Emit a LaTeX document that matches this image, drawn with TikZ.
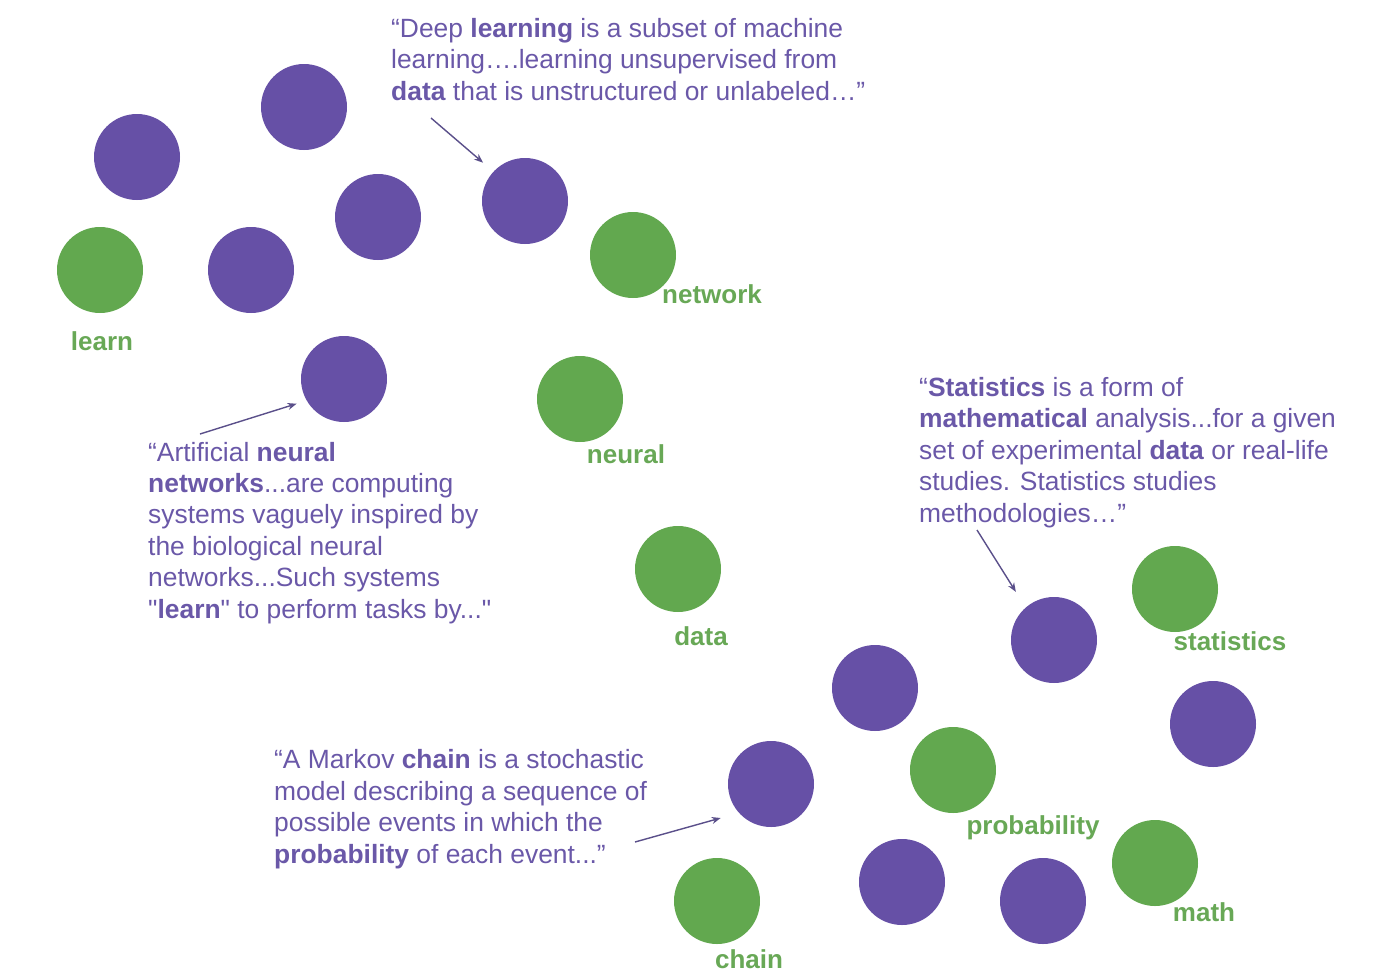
\documentclass[tikz,border=0pt]{standalone}
\usepackage{fontspec}
\setmainfont{Liberation Sans}[Ligatures=TeXOff]
\usetikzlibrary{arrows.meta}
\definecolor{purp}{HTML}{6650A6}
\definecolor{ptext}{HTML}{6A58A8}
\definecolor{grn}{HTML}{62A84F}
\definecolor{gtext}{HTML}{68A856}
\definecolor{arrc}{HTML}{5A4F8A}
\tikzset{
  pdot/.style={circle,fill=purp,minimum size=86pt,inner sep=0pt},
  gdot/.style={circle,fill=grn,minimum size=86pt,inner sep=0pt},
  lbl/.style={text=gtext,font=\fontsize{26}{30}\selectfont\bfseries,inner sep=0pt},
  quote/.style={text=ptext,font=\fontsize{26.4}{31.4}\selectfont,align=left,inner sep=0pt,anchor=base west},
  arr/.style={draw=arrc,line width=1.4pt,-{Stealth[length=9pt,width=7pt]}}
}
\begin{document}
\begin{tikzpicture}[x=1pt,y=-1pt]
\useasboundingbox (0,0) rectangle (1398,978);
% purple circles
\node[pdot] (p1) at (137,157) {};
\node[pdot] (p2) at (304,107) {};
\node[pdot] (p3) at (378,217) {};
\node[pdot] (p4) at (251,270) {};
\node[pdot] (p5) at (525,201) {};
\node[pdot] (p6) at (344,379) {};
\node[pdot] (p7) at (1054,640) {};
\node[pdot] (p8) at (875,688) {};
\node[pdot] (p9) at (1213,724) {};
\node[pdot] (p10) at (771,784) {};
\node[pdot] (p11) at (902,882) {};
\node[pdot] (p12) at (1043,901) {};
% green circles
\node[gdot] (g1) at (100,270) {};
\node[gdot] (g2) at (633,255) {};
\node[gdot] (g3) at (580,399) {};
\node[gdot] (g4) at (678,569) {};
\node[gdot] (g5) at (1175,589) {};
\node[gdot] (g6) at (953,770) {};
\node[gdot] (g7) at (1155,863) {};
\node[gdot] (g8) at (717,901) {};
% labels
\node[lbl,anchor=base] (l1) at (102,350) {learn};
\node[lbl,anchor=base west] (l2) at (662,303) {network};
\node[lbl,anchor=base] (l3) at (626,463) {neural};
\node[lbl,anchor=base] (l4) at (701,645) {data};
\node[lbl,anchor=base] (l5) at (1230,650) {statistics};
\node[lbl,anchor=base] (l6) at (1033,834) {probability};
\node[lbl,anchor=base] (l7) at (1204,921) {math};
\node[lbl,anchor=base] (l8) at (749,968) {chain};
% quotes (anchored at the baseline of their last line)
\node[quote] (q1) at (391,100) {“Deep \textbf{learning} is a subset of machine\\learning….learning unsupervised from\\\textbf{data} that is unstructured or unlabeled…”};
\node[quote] (q2) at (148,618) {“Artificial \textbf{neural}\\\textbf{networks}...are computing\\systems vaguely inspired by\\the biological neural\\networks...Such systems\\"\textbf{learn}" to perform tasks by..."};
\node[quote] (q3) at (919,522) {“\textbf{Statistics} is a form of\\\textbf{mathematical} analysis...for a given\\set of experimental \textbf{data} or real-life\\studies. Statistics studies\\methodologies…”};
\node[quote] (q4) at (274,863) {“A Markov \textbf{chain} is a stochastic\\model describing a sequence of\\possible events in which the\\\textbf{probability} of each event...”};
% arrow tails
\coordinate (a1) at (431,118);
\coordinate (a2) at (200,434);
\coordinate (a3) at (977,530);
\coordinate (a4) at (635,842);
\draw[arr,shorten >=13.6pt] (a1) -- (p5.137.5);
\draw[arr,shorten >=10.5pt] (a2) -- (p6.210.6);
\draw[arr,shorten >=18.4pt] (a3) -- (p7.131);
\draw[arr,shorten >=18.9pt] (a4) -- (p10.222.3);
\end{tikzpicture}
\end{document}
